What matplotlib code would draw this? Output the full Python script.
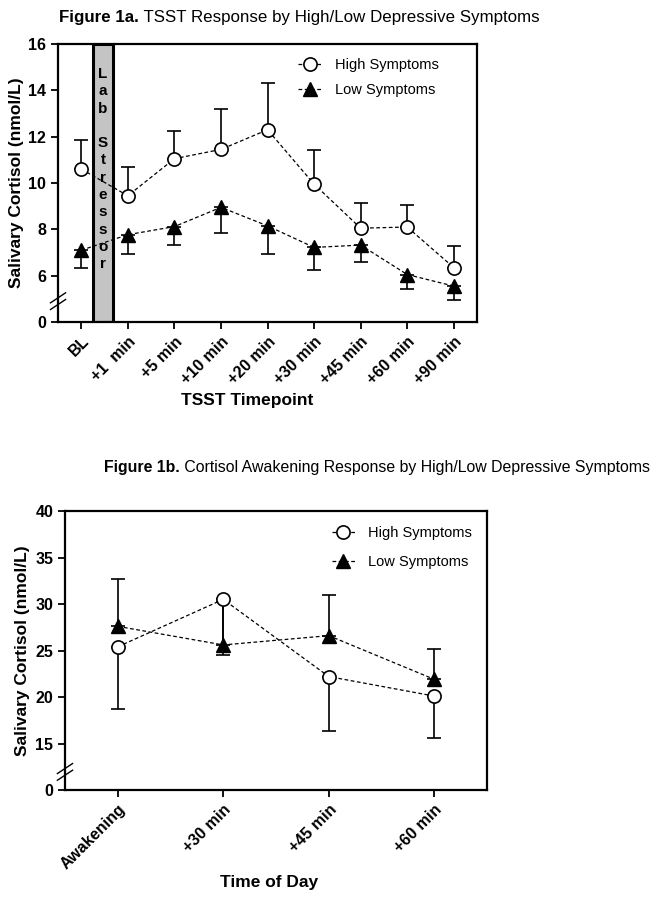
import numpy as np
import matplotlib
matplotlib.use('Agg')
import matplotlib.pyplot as plt
from matplotlib.patches import Rectangle
from matplotlib.lines import Line2D

plt.rcParams['font.family'] = ['Liberation Sans', 'DejaVu Sans']

# --- Figure 1a data (TSST) ---
tsst_labels = ['BL', '+1  min', '+5 min', '+10 min', '+20 min', '+30 min', '+45 min', '+60 min', '+90 min']
tsst_high = [10.6, 9.45, 11.05, 11.45, 12.3, 9.95, 8.05, 8.1, 6.35]
tsst_high_err = [1.24, 1.23, 1.18, 1.74, 2.0, 1.46, 1.07, 0.93, 0.91]   # upward
tsst_low = [7.1, 7.77, 8.12, 8.95, 8.15, 7.22, 7.32, 6.05, 5.55]
tsst_low_err = [0.75, 0.82, 0.78, 1.09, 1.2, 0.96, 0.72, 0.61, 0.59]    # downward
tsst_yticks = [4, 6, 8, 10, 12, 14, 16]
tsst_yticklabels = ['0', '6', '8', '10', '12', '14', '16']
stressor_span = (0.26, 0.67)

# --- Figure 1b data (CAR) ---
car_labels = ['Awakening', '+30 min', '+45 min', '+60 min']
car_high = [25.4, 30.5, 22.2, 20.1]
car_high_err = [6.7, 6.0, 5.9, 4.5]    # downward
car_low = [27.6, 25.6, 26.6, 21.9]
car_low_err = [5.1, 4.6, 4.4, 3.3]     # upward
car_yticks = [10, 15, 20, 25, 30, 35, 40]
car_yticklabels = ['0', '15', '20', '25', '30', '35', '40']

DASH = (0, (3, 2))


def style_axes(ax):
    for s in ax.spines.values():
        s.set_linewidth(1.6)
    ax.tick_params(axis='both', direction='out', length=5, width=1.3,
                   labelsize=11.5)
    for lab in ax.get_yticklabels() + ax.get_xticklabels():
        lab.set_fontweight('bold')


def draw_series(ax, x, high, high_err, low, low_err, high_up):
    zeros = np.zeros(len(x))
    if high_up:
        h_err = [zeros, high_err]
        l_err = [low_err, zeros]
    else:
        h_err = [high_err, zeros]
        l_err = [zeros, low_err]
    ax.errorbar(x, high, yerr=h_err, fmt='none', ecolor='black',
                elinewidth=1.2, capsize=5, capthick=1.2, zorder=2)
    ax.errorbar(x, low, yerr=l_err, fmt='none', ecolor='black',
                elinewidth=1.2, capsize=5, capthick=1.2, zorder=2)
    ax.plot(x, high, color='black', linestyle=DASH, linewidth=0.9,
            marker='o', markersize=9.5, markerfacecolor='white',
            markeredgecolor='black', markeredgewidth=1.2, zorder=3)
    ax.plot(x, low, color='black', linestyle=DASH, linewidth=0.9,
            marker='^', markersize=9.5, markerfacecolor='black',
            markeredgecolor='black', zorder=3)


def add_legend(ax, anchor, spacing):
    handles = [
        Line2D([], [], color='black', linestyle=DASH, linewidth=0.9, marker='o',
               markersize=9.5, markerfacecolor='white', markeredgewidth=1.2),
        Line2D([], [], color='black', linestyle=DASH, linewidth=0.9, marker='^',
               markersize=9.5, markerfacecolor='black'),
    ]
    ax.legend(handles, ['High Symptoms', 'Low Symptoms'], loc='upper left',
              bbox_to_anchor=anchor, frameon=False, fontsize=10.5,
              handlelength=1.6, handletextpad=0.9, labelspacing=spacing)


def break_marks(ax, yfrac, dx, dy):
    for off in (-0.012, 0.012):
        ax.plot([-dx, dx], [yfrac - dy + off, yfrac + dy + off], color='black',
                linewidth=1.0, transform=ax.transAxes, clip_on=False, zorder=5)


def fig_title(fig, x, y, bold_part, rest, size):
    t = fig.text(x, y, bold_part, fontsize=size, fontweight='bold', va='center')
    r = fig.canvas.get_renderer()
    bb = t.get_window_extent(renderer=r)
    x2 = bb.x1 / fig.bbox.width
    fig.text(x2, y, ' ' + rest, fontsize=size, va='center')


fig = plt.figure(figsize=(6.61, 9), dpi=100)

# ---------------- Figure 1a ----------------
ax1 = fig.add_axes([0.0878, 0.6422, 0.6339, 0.3089])
x1 = np.arange(len(tsst_labels))
ax1.add_patch(Rectangle((stressor_span[0], 4), stressor_span[1] - stressor_span[0], 12,
                        facecolor='#c4c4c4', edgecolor='black', linewidth=2.2,
                        zorder=1.5))
ax1.text(np.mean(stressor_span), 10.6, 'L\na\nb\n\nS\nt\nr\ne\ns\ns\no\nr',
         ha='center', va='center', fontsize=11, fontweight='bold',
         linespacing=1.3, zorder=4)
draw_series(ax1, x1, tsst_high, tsst_high_err, tsst_low, tsst_low_err, high_up=True)
ax1.set_xlim(-0.5, len(tsst_labels) - 0.5)
ax1.set_ylim(4, 16)
ax1.set_yticks(tsst_yticks)
ax1.set_yticklabels(tsst_yticklabels)
ax1.set_xticks(x1)
ax1.set_xticklabels(tsst_labels, rotation=45, ha='right', rotation_mode='anchor')
style_axes(ax1)
ax1.set_ylabel('Salivary Cortisol (nmol/L)', fontsize=12.5, fontweight='bold', labelpad=3)
ax1.set_xlabel('TSST Timepoint', fontsize=12.5, fontweight='bold', labelpad=4)
ax1.xaxis.set_label_coords(0.451, -0.255)
add_legend(ax1, (0.542, 0.998), 0.75)
break_marks(ax1, 0.075, 0.018, 0.018)

fig_title(fig, 0.089, 0.981, 'Figure 1a.', 'TSST Response by High/Low Depressive Symptoms', 12.2)

# ---------------- Figure 1b ----------------
ax2 = fig.add_axes([0.0983, 0.1222, 0.6385, 0.31])
x2 = np.arange(len(car_labels))
draw_series(ax2, x2, car_high, car_high_err, car_low, car_low_err, high_up=False)
ax2.set_xlim(-0.5, len(car_labels) - 0.5)
ax2.set_ylim(10, 40)
ax2.set_yticks(car_yticks)
ax2.set_yticklabels(car_yticklabels)
ax2.set_xticks(x2)
ax2.set_xticklabels(car_labels, rotation=45, ha='right', rotation_mode='anchor')
style_axes(ax2)
ax2.set_ylabel('Salivary Cortisol (nmol/L)', fontsize=12.5, fontweight='bold', labelpad=4)
ax2.set_xlabel('Time of Day', fontsize=12.5, fontweight='bold', labelpad=3)
ax2.xaxis.set_label_coords(0.483, -0.305)
add_legend(ax2, (0.601, 0.994), 1.02)
break_marks(ax2, 0.065, 0.018, 0.018)

fig_title(fig, 0.157, 0.481, 'Figure 1b.', 'Cortisol Awakening Response by High/Low Depressive Symptoms', 11.4)

fig.savefig('out.png', dpi=100)
